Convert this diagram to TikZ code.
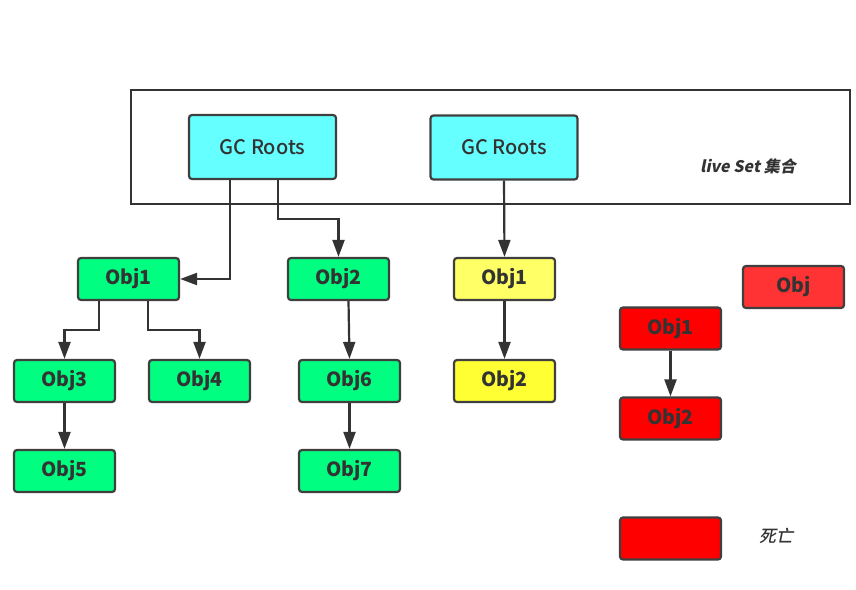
\documentclass[tikz,border=0pt]{standalone}
\usepackage{fontspec}
\setmainfont{Noto Sans CJK SC}
\newfontfamily\slfont[FakeSlant=0.2]{Noto Sans CJK SC}
\newfontfamily\medfont{Noto Sans CJK SC Medium}
\newfontfamily\slmedfont[FakeSlant=0.2]{Noto Sans CJK SC Medium}
\usetikzlibrary{arrows.meta}
\definecolor{edge}{HTML}{333333}
\definecolor{bord}{HTML}{3F3F3F}
\definecolor{cyanf}{HTML}{66FFFF}
\definecolor{greenf}{HTML}{00FF80}
\definecolor{yel1}{HTML}{FFFF66}
\definecolor{yel2}{HTML}{FFFF33}
\definecolor{redf}{HTML}{FF0000}
\definecolor{redl}{HTML}{FF3333}
\tikzset{
  box/.style={draw=bord, line width=2.2pt, rounded corners=3pt, minimum width=101pt, minimum height=42pt, inner sep=0pt, text=edge, font=\fontsize{19.5}{21}\selectfont\bfseries},
  root/.style={box, fill=cyanf, minimum width=147pt, minimum height=64pt, font=\medfont\fontsize{20}{22}\selectfont},
  arr/.style={draw=edge, line width=2.2pt, -{Triangle[length=17pt,width=12pt]}},
}
\begin{document}
\begin{tikzpicture}[x=1pt,y=-1pt]
\useasboundingbox (0,0) rectangle (856,589);
\node[draw=edge, line width=2.2pt, minimum width=719pt, minimum height=114pt, inner sep=0pt] (live) at (490.5,147) {};
\node[root] (gc1) at (262.5,147) {GC Roots};
\node[root] (gc2) at (504,147.5) {GC Roots};
\node[text=edge, font=\slfont\fontsize{16}{18}\selectfont\bfseries] (lbl) at (748,166) {live Set 集合};

\node[box, fill=greenf] (g1) at (128.5,279) {Obj1};
\node[box, fill=greenf] (g2) at (338.5,279) {Obj2};
\node[box, fill=greenf] (g3) at (64.5,381) {Obj3};
\node[box, fill=greenf] (g4) at (199.5,381) {Obj4};
\node[box, fill=greenf] (g5) at (64.5,471) {Obj5};
\node[box, fill=greenf] (g6) at (349.5,381) {Obj6};
\node[box, fill=greenf] (g7) at (349.5,471) {Obj7};

\node[box, fill=yel1] (y1) at (504.5,279) {Obj1};
\node[box, fill=yel2] (y2) at (504.5,381) {Obj2};

\node[box, fill=redl] (r0) at (793.5,287) {Obj};
\node[box, fill=redf] (r1) at (670.5,328.5) {Obj1};
\node[box, fill=redf] (r2) at (670.5,418.5) {Obj2};
\node[box, fill=redf] (r3) at (670.5,538.5) {};
\node[text=edge, font=\slmedfont\fontsize{17}{19}\selectfont] (dead) at (776,536) {死亡};

\draw[arr] ([xshift=-32.5pt]gc1.south) |- (g1.east);
\draw[arr] ([xshift=15.5pt]gc1.south) -- ++(0,39) -| (g2.north);
\draw[arr] (gc2.south) -- (y1.north);
\draw[arr] ([xshift=-29.5pt]g1.south) -- ++(0,29) -| (g3.north);
\draw[arr] ([xshift=19.5pt]g1.south) -- ++(0,29) -| (g4.north);
\draw[arr] ([xshift=10pt]g2.south) -- (g6.north);
\draw[arr] (g3.south) -- (g5.north);
\draw[arr] (g6.south) -- (g7.north);
\draw[arr] (y1.south) -- (y2.north);
\draw[arr] (r1.south) -- (r2.north);
\end{tikzpicture}
\end{document}
